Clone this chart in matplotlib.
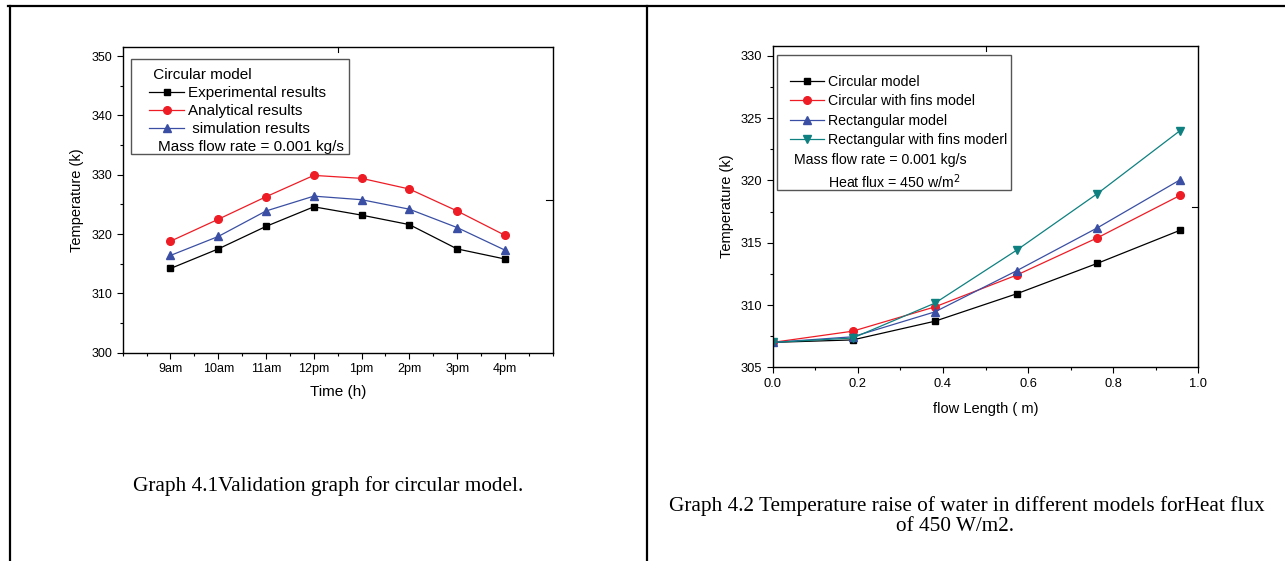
import numpy as np
import matplotlib.pyplot as plt
from matplotlib.lines import Line2D
from matplotlib.patches import Rectangle
from matplotlib.ticker import MultipleLocator

plt.rcParams['font.family'] = ['Liberation Sans', 'DejaVu Sans']

# graph 4.1 data
times = ['9am', '10am', '11am', '12pm', '1pm', '2pm', '3pm', '4pm']
experimental = [314.2, 317.5, 321.3, 324.6, 323.2, 321.6, 317.5, 315.8]
analytical = [318.8, 322.5, 326.3, 329.9, 329.4, 327.6, 323.9, 319.8]
simulation = [316.4, 319.6, 323.9, 326.4, 325.8, 324.2, 321.1, 317.3]

# graph 4.2 data
length = [0.0, 0.188, 0.381, 0.573, 0.763, 0.957]
circ = [307.0, 307.2, 308.7, 310.9, 313.35, 316.0]
circ_fins = [307.0, 307.9, 309.85, 312.4, 315.4, 318.8]
rect = [307.0, 307.45, 309.45, 312.75, 316.2, 320.05]
rect_fins = [307.0, 307.35, 310.15, 314.4, 318.95, 324.0]

W, H = 1285, 561
fig = plt.figure(figsize=(W / 100, H / 100), dpi=100)

def box(x0, y0, x1, y1):
    return [x0 / W, 1 - y1 / H, (x1 - x0) / W, (y1 - y0) / H]

def frame(x0, y0, x1, y1):
    fig.add_artist(Rectangle((x0 / W, 1 - y1 / H), (x1 - x0) / W, (y1 - y0) / H,
                             transform=fig.transFigure, fill=False,
                             edgecolor='#555555', lw=1.0, zorder=5))

# table borders
lw = 1.6
fig.add_artist(Line2D([8 / W, 1], [1 - 5.5 / H] * 2, color='black', lw=lw))
fig.add_artist(Line2D([9.7 / W] * 2, [0, 1 - 5.5 / H], color='black', lw=lw))
fig.add_artist(Line2D([646.7 / W] * 2, [0, 1 - 5.5 / H], color='black', lw=lw))


def style_axes(ax, fs):
    for s in ax.spines.values():
        s.set_linewidth(1.0)
    ax.tick_params(which='both', direction='out', labelsize=fs, width=0.8)
    ax.tick_params(which='major', length=4)
    ax.tick_params(which='minor', length=2.5)
    # single inward ticks at middle of top and right spines
    ax.plot([0.5, 0.5], [1, 0.985], transform=ax.transAxes, color='black', lw=0.8, clip_on=False)
    ax.plot([1, 0.985], [0.5, 0.5], transform=ax.transAxes, color='black', lw=0.8, clip_on=False)


# left chart
ax1 = fig.add_axes(box(122.7, 47.3, 552.7, 352.7))
pos = np.arange(1, len(times) + 1)
ax1.plot(pos, experimental, color='black', marker='s', ms=5, lw=0.9, label='Experimental results')
ax1.plot(pos, analytical, color='#ee1c25', marker='o', ms=5.5, lw=0.9, label='Analytical results')
ax1.plot(pos, simulation, color='#3a4fa3', marker='^', ms=6, lw=0.9, label=' simulation results')
ax1.set_xlim(0, 9)
ax1.set_ylim(300, 351.5)
ax1.set_xticks(pos)
ax1.set_xticklabels(times)
ax1.xaxis.set_minor_locator(MultipleLocator(0.5))
ax1.yaxis.set_major_locator(MultipleLocator(10))
ax1.yaxis.set_minor_locator(MultipleLocator(5))
ax1.set_xlabel('Time (h)', fontsize=11, labelpad=7)
ax1.set_ylabel('Temperature (k)', fontsize=10.5, labelpad=5)
style_axes(ax1, 9)
extra1 = Line2D([], [], color='none', label='Mass flow rate = 0.001 kg/s')
h1, l1 = ax1.get_legend_handles_labels()
leg1 = ax1.legend(h1 + [extra1], l1 + [extra1.get_label()], title=' Circular model',
                  loc='upper left', bbox_to_anchor=(149 / W, 1 - 68 / H),
                  bbox_transform=fig.transFigure, fontsize=11, title_fontsize=11,
                  frameon=False, handlelength=2.3, handletextpad=0.25,
                  labelspacing=0.27, borderpad=0, borderaxespad=0)
leg1._legend_box.align = 'left'
leg1.get_texts()[3].set_x(-30)
frame(131, 59, 349, 154)

# right chart
ax2 = fig.add_axes(box(772.7, 46, 1198.3, 367.3))
ax2.plot(length, circ, color='black', marker='s', ms=5, lw=0.9, label='Circular model')
ax2.plot(length, circ_fins, color='#ee1c25', marker='o', ms=5.5, lw=0.9, label='Circular with fins model')
ax2.plot(length, rect, color='#3a4fa3', marker='^', ms=6, lw=0.9, label='Rectangular model')
ax2.plot(length, rect_fins, color='#0f8080', marker='v', ms=6, lw=0.9, label='Rectangular with fins moderl')
ax2.set_xlim(0, 1.0)
ax2.set_ylim(305, 330.8)
ax2.xaxis.set_major_locator(MultipleLocator(0.2))
ax2.xaxis.set_minor_locator(MultipleLocator(0.1))
ax2.yaxis.set_major_locator(MultipleLocator(5))
ax2.yaxis.set_minor_locator(MultipleLocator(2.5))
ax2.set_xlabel('flow Length ( m)', fontsize=10.5, labelpad=9)
ax2.set_ylabel('Temperature (k)', fontsize=10.5, labelpad=5)
style_axes(ax2, 9.3)
e2a = Line2D([], [], color='none')
e2b = Line2D([], [], color='none')
h2, l2 = ax2.get_legend_handles_labels()
leg2 = ax2.legend(h2 + [e2a, e2b],
                  l2 + ['Mass flow rate = 0.001 kg/s', 'Heat flux = 450 w/m$^2$'],
                  loc='upper left', bbox_to_anchor=(790 / W, 1 - 75 / H),
                  bbox_transform=fig.transFigure, fontsize=10.2,
                  frameon=False, handlelength=2.4, handletextpad=0.3,
                  labelspacing=0.38, borderpad=0, borderaxespad=0)
leg2.get_texts()[4].set_x(-34)
frame(777.3, 54.7, 1010.7, 190)

# captions
cap = dict(family='Liberation Serif', fontsize=15.3, ha='center', va='baseline')
fig.text(328.5 / W, 1 - 490.7 / H, 'Graph 4.1Validation graph for circular model.', **cap)
fig.text(967 / W, 1 - 510.7 / H, 'Graph 4.2 Temperature raise of water in different models forHeat flux', **cap)
fig.text(955 / W, 1 - 531 / H, 'of 450 W/m2.', **cap)

fig.savefig('out.png', dpi=100)
